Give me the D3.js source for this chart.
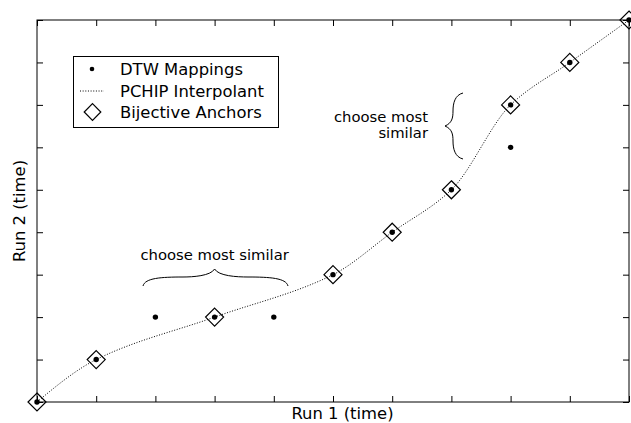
<!DOCTYPE html>
<html>
<head>
<meta charset="utf-8">
<script src="https://cdn.jsdelivr.net/npm/d3@7"></script>
<style>
  html, body { margin: 0; padding: 0; background: #fff; }
  svg { display: block; }
  text { font-family: "DejaVu Sans", sans-serif; fill: #000; }
</style>
</head>
<body>
<svg id="chart" width="631" height="423"></svg>
<script>
// ---- data ----
const dtwX = [0, 1, 2, 3, 4, 5, 6, 7, 8, 8, 9, 10];
const dtwY = [0, 1, 2, 2, 2, 3, 4, 5, 6, 7, 8, 9];
const anchorX = [0, 1, 3, 5, 6, 7, 8, 9, 10];
const anchorY = [0, 1, 2, 3, 4, 5, 7, 8, 9];
const xTicks = [0, 1, 2, 3, 4, 5, 6, 7, 8, 9, 10];
const yTicks = [0, 1, 2, 3, 4, 5, 6, 7, 8, 9];
const legendLabels = ["DTW Mappings", "PCHIP Interpolant", "Bijective Anchors"];
const axisLabels = { x: "Run 1 (time)", y: "Run 2 (time)" };
const note1 = ["choose most similar"];
const note2 = ["choose most", "similar"];

// ---- PCHIP curve (scipy-style tangents) ----
function CurvePchip(context) { this._context = context; }
CurvePchip.prototype = {
  areaStart() { this._line = 0; },
  areaEnd() { this._line = NaN; },
  lineStart() { this._xs = []; this._ys = []; },
  point(x, y) { this._xs.push(+x); this._ys.push(+y); },
  lineEnd() {
    const xs = this._xs, ys = this._ys, n = xs.length, c = this._context;
    if (n === 0) return;
    c.moveTo(xs[0], ys[0]);
    if (n === 1) return;
    const h = [], m = [];
    for (let i = 0; i < n - 1; i++) { h.push(xs[i + 1] - xs[i]); m.push((ys[i + 1] - ys[i]) / h[i]); }
    const d = new Array(n).fill(0);
    if (n === 2) { d[0] = d[1] = m[0]; }
    else {
      for (let k = 1; k < n - 1; k++) {
        if (m[k - 1] * m[k] <= 0) d[k] = 0;
        else {
          const w1 = 2 * h[k] + h[k - 1], w2 = h[k] + 2 * h[k - 1];
          d[k] = (w1 + w2) / (w1 / m[k - 1] + w2 / m[k]);
        }
      }
      const edge = (h0, h1, m0, m1) => {
        let dd = ((2 * h0 + h1) * m0 - h0 * m1) / (h0 + h1);
        if (Math.sign(dd) !== Math.sign(m0)) dd = 0;
        else if (Math.sign(m0) !== Math.sign(m1) && Math.abs(dd) > 3 * Math.abs(m0)) dd = 3 * m0;
        return dd;
      };
      d[0] = edge(h[0], h[1], m[0], m[1]);
      d[n - 1] = edge(h[n - 2], h[n - 3], m[n - 2], m[n - 3]);
    }
    for (let i = 0; i < n - 1; i++) {
      const t = h[i] / 3;
      c.bezierCurveTo(xs[i] + t, ys[i] + d[i] * t, xs[i + 1] - t, ys[i + 1] - d[i + 1] * t, xs[i + 1], ys[i + 1]);
    }
  }
};
const curvePchip = ctx => new CurvePchip(ctx);

// ---- layout ----
const svg = d3.select("#chart");
const L = 37, R = 629, T = 20, B = 402;
const x = d3.scaleLinear().domain([0, 10]).range([L, R]);
const y = d3.scaleLinear().domain([0, 9]).range([B, T]);

// ticks (inward on all four sides)
function styleAxis(g) {
  g.select(".domain").remove();
  g.selectAll(".tick line").attr("stroke", "#000").attr("stroke-width", 1);
  g.selectAll(".tick text").remove();
}
svg.append("g").attr("transform", `translate(0,${B})`)
  .call(d3.axisBottom(x).tickValues(xTicks).tickSize(-6).tickFormat("")).call(styleAxis);
svg.append("g").attr("transform", `translate(0,${T})`)
  .call(d3.axisTop(x).tickValues(xTicks).tickSize(-6).tickFormat("")).call(styleAxis);
svg.append("g").attr("transform", `translate(${L},0)`)
  .call(d3.axisLeft(y).tickValues(yTicks).tickSize(-6).tickFormat("")).call(styleAxis);
svg.append("g").attr("transform", `translate(${R},0)`)
  .call(d3.axisRight(y).tickValues(yTicks).tickSize(-6).tickFormat("")).call(styleAxis);

// frame
svg.append("rect").attr("x", L).attr("y", T).attr("width", R - L).attr("height", B - T)
  .attr("fill", "none").attr("stroke", "#000").attr("stroke-width", 1);

// PCHIP curve
const anchors = anchorX.map((v, i) => [v, anchorY[i]]);
svg.append("path").datum(anchors)
  .attr("d", d3.line().x(d => x(d[0])).y(d => y(d[1])).curve(curvePchip))
  .attr("fill", "none").attr("stroke", "#000").attr("stroke-width", 1)
  .attr("stroke-dasharray", "1,1.65");

// DTW dots
const dtw = dtwX.map((v, i) => [v, dtwY[i]]);
svg.append("g").selectAll("circle").data(dtw).join("circle")
  .attr("cx", d => x(d[0])).attr("cy", d => y(d[1])).attr("r", 2.7).attr("fill", "#000");

// anchor diamonds
const diamond = (cx, cy, r) => `M${cx},${cy - r}L${cx + r},${cy}L${cx},${cy + r}L${cx - r},${cy}Z`;
svg.append("g").selectAll("path").data(anchors).join("path")
  .attr("d", d => diamond(x(d[0]), y(d[1]), 9))
  .attr("fill", "none").attr("stroke", "#000").attr("stroke-width", 1.2);

// annotations
const fsNote = 14.8;
svg.append("text").attr("x", x(3)).attr("y", 260).attr("text-anchor", "middle")
  .style("font-size", fsNote + "px").text(note1[0]);
// horizontal brace
{
  const x0 = 143, x1 = 288, xc = x(3), yE = 286, ym = 277, yT = 269;
  const p = `M${x0},${yE} C${x0 + 2},${yE - 8} ${x0 + 18},${ym} ${x0 + 40},${ym}` +
            ` C${xc - 22},${ym} ${xc - 4},${ym - 1} ${xc},${yT}` +
            ` C${xc + 4},${ym - 1} ${xc + 22},${ym} ${x1 - 40},${ym}` +
            ` C${x1 - 18},${ym} ${x1 - 2},${yE - 8} ${x1},${yE}`;
  svg.append("path").attr("d", p).attr("fill", "none").attr("stroke", "#000").attr("stroke-width", 1);
}
note2.forEach((t, i) => {
  svg.append("text").attr("x", 428).attr("y", 122 + i * 16).attr("text-anchor", "end")
    .style("font-size", fsNote + "px").text(t);
});
// vertical brace
{
  const y0 = 93, y1 = 159, yc = 126, xE = 463, xm = 453, xT = 445;
  const p = `M${xE},${y0} C${xE - 8},${y0 + 2} ${xm},${y0 + 10} ${xm},${y0 + 18}` +
            ` C${xm},${yc - 8} ${xm - 1},${yc - 3} ${xT},${yc}` +
            ` C${xm - 1},${yc + 3} ${xm},${yc + 8} ${xm},${y1 - 18}` +
            ` C${xm},${y1 - 10} ${xE - 8},${y1 - 2} ${xE},${y1}`;
  svg.append("path").attr("d", p).attr("fill", "none").attr("stroke", "#000").attr("stroke-width", 1);
}

// axis labels
const fsLab = 16.4;
svg.append("text").attr("x", 342.5).attr("y", 418.5).attr("text-anchor", "middle")
  .style("font-size", fsLab + "px").text(axisLabels.x);
svg.append("text").attr("transform", `translate(25,${(T + B) / 2}) rotate(-90)`)
  .attr("text-anchor", "middle").style("font-size", fsLab + "px").text(axisLabels.y);

// legend
const lg = svg.append("g");
lg.append("rect").attr("x", 73.5).attr("y", 56.5).attr("width", 205).attr("height", 71)
  .attr("fill", "#fff").attr("stroke", "#000").attr("stroke-width", 1);
const rowY = [69, 91, 112];
lg.append("circle").attr("cx", 92).attr("cy", rowY[0]).attr("r", 2.3).attr("fill", "#000");
lg.append("line").attr("x1", 80).attr("x2", 104).attr("y1", rowY[1]).attr("y2", rowY[1])
  .attr("stroke", "#000").attr("stroke-width", 1).attr("stroke-dasharray", "1,1.65");
lg.append("path").attr("d", diamond(92.5, rowY[2], 8.3)).attr("fill", "none")
  .attr("stroke", "#000").attr("stroke-width", 1.2);
legendLabels.forEach((t, i) => {
  lg.append("text").attr("x", 120).attr("y", rowY[i] + 5.5).style("font-size", fsLab + "px").text(t);
});
</script>
</body>
</html>
